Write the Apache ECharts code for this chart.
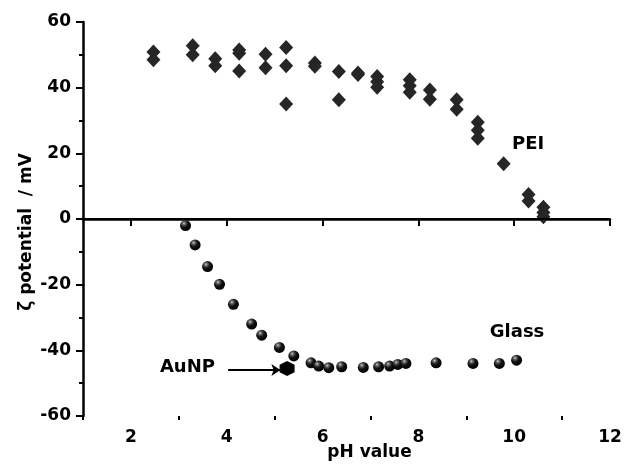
<!DOCTYPE html>
<html>
<head>
<meta charset="utf-8">
<script src="https://cdn.jsdelivr.net/npm/echarts@6/dist/echarts.min.js"></script>
<style>
  html, body { margin: 0; padding: 0; background: #fff; }
  #chart { width: 624px; height: 468px; }
</style>
</head>
<body>
<div id="chart"></div>
<script>
// PEI coated (diamonds)
var peiPH   = [2.47, 2.47, 3.29, 3.29, 3.76, 3.76, 4.26, 4.26, 4.26, 4.81, 4.81, 5.24, 5.24, 5.24,
               5.84, 5.84, 6.34, 6.34, 6.74, 6.74, 7.14, 7.14, 7.14, 7.82, 7.82, 7.82, 8.24, 8.24,
               8.80, 8.80, 9.24, 9.24, 9.24, 9.78, 10.30, 10.30, 10.61, 10.61, 10.61];
var peiZeta = [50.9, 48.5, 52.8, 50.0, 48.8, 46.7, 51.5, 50.5, 45.1, 50.2, 46.1, 52.2, 46.7, 35.0,
               47.5, 46.5, 44.9, 36.3, 44.5, 44.0, 43.4, 41.8, 40.1, 42.4, 40.6, 38.6, 39.3, 36.5,
               36.3, 33.4, 29.5, 27.0, 24.6, 16.8, 7.5, 5.5, 3.6, 2.0, 0.7];

// bare glass (spheres)
var glassPH   = [3.14, 3.34, 3.60, 3.85, 4.14, 4.52, 4.73, 5.10, 5.40, 5.76, 5.92, 6.13, 6.40,
                 6.85, 7.17, 7.40, 7.57, 7.74, 8.37, 9.14, 9.69, 10.05];
var glassZeta = [-2.0, -7.9, -14.5, -19.9, -26.0, -32.0, -35.4, -39.1, -41.7, -43.8, -44.8, -45.3, -45.0,
                 -45.2, -45.0, -44.8, -44.3, -44.0, -43.8, -44.0, -44.0, -43.0];

// gold nanoparticles
var aunpPH   = [5.26];
var aunpZeta = [-45.5];

var xMajorTicks = [2, 4, 6, 8, 10, 12];
var xMinorTicks = [1, 3, 5, 7, 9, 11];

function pairs(xs, ys) {
  var out = [];
  for (var i = 0; i < xs.length; i++) {
    out.push([xs[i], ys[i]]);
  }
  return out;
}

var font = 'DejaVu Sans';

// sphere look
var ball = {
  type: 'radial', x: 0.36, y: 0.3, r: 0.7,
  colorStops: [
    { offset: 0, color: '#d8d8d8' },
    { offset: 0.18, color: '#6a6a6a' },
    { offset: 0.5, color: '#141414' },
    { offset: 1, color: '#000' }
  ]
};

var hexagon = 'path://M0,-1 L0.866,-0.5 L0.866,0.5 L0,1 L-0.866,0.5 L-0.866,-0.5 Z';

var myChart = echarts.init(document.getElementById('chart'));

var option = {
  animation: false,
  backgroundColor: '#fff',
  grid: { left: 83, right: 14, top: 22, bottom: 52, outerBoundsMode: 'none' },
  xAxis: [
    {
      type: 'value', min: 1, max: 12,
      name: 'pH value', nameLocation: 'middle', nameGap: 28, nameMoveOverlap: false,
      nameTextStyle: { fontFamily: font, fontWeight: 'bold', fontSize: 17, color: '#000', padding: [0, 0, 0, 46] },
      axisLine: { show: true, lineStyle: { color: '#000', width: 2.5 } },
      axisTick: { show: true, customValues: xMajorTicks, length: 7, lineStyle: { color: '#000', width: 2 } },
      axisLabel: { customValues: xMajorTicks, margin: 13, fontFamily: font, fontWeight: 'bold', fontSize: 17, color: '#000' },
      splitLine: { show: false }
    },
    {
      type: 'value', min: 1, max: 12, position: 'bottom',
      axisLine: { show: false },
      axisTick: { show: true, customValues: xMinorTicks, length: 4, lineStyle: { color: '#000', width: 2 } },
      axisLabel: { show: false },
      splitLine: { show: false }
    }
  ],
  yAxis: {
    type: 'value', min: -60, max: 60, interval: 20,
    name: 'ζ potential  / mV', nameLocation: 'middle', nameGap: 48, nameMoveOverlap: false,
    nameTextStyle: { fontFamily: font, fontWeight: 'bold', fontSize: 17, color: '#000', padding: [0, 26, 0, 0] },
    axisLine: { show: true, lineStyle: { color: '#000', width: 2.5 } },
    axisTick: { show: true, length: 7, lineStyle: { color: '#000', width: 2 } },
    minorTick: { show: true, splitNumber: 2, length: 4, lineStyle: { color: '#000', width: 2 } },
    axisLabel: { margin: 12, fontFamily: font, fontWeight: 'bold', fontSize: 17, color: '#000' },
    splitLine: { show: false }
  },
  series: [
    {
      name: 'PEI', type: 'scatter',
      symbol: 'diamond', symbolSize: [14, 15],
      itemStyle: { color: '#262626', opacity: 1 },
      data: pairs(peiPH, peiZeta),
      markLine: {
        silent: true, symbol: ['none', 'none'],
        label: { show: false },
        lineStyle: { color: '#000', width: 2, type: 'solid' },
        data: [{ yAxis: 0 }]
      },
      z: 3
    },
    {
      name: 'Glass', type: 'scatter',
      symbol: 'circle', symbolSize: 11,
      itemStyle: { color: ball, opacity: 1 },
      data: pairs(glassPH, glassZeta),
      z: 4
    },
    {
      name: 'AuNP', type: 'scatter',
      symbol: hexagon, symbolSize: 15,
      itemStyle: { color: '#000', opacity: 1 },
      data: pairs(aunpPH, aunpZeta),
      markLine: {
        silent: true, symbol: ['none', 'arrow'], symbolSize: 9,
        label: { show: false },
        lineStyle: { color: '#000', width: 2, type: 'solid' },
        data: [[{ coord: [4.03, -46] }, { coord: [5.12, -46] }]]
      },
      z: 5
    },
    {
      name: 'notes', type: 'scatter', symbolSize: 0, silent: true,
      itemStyle: { color: '#000', opacity: 1 },
      label: {
        show: true, position: 'inside', formatter: '{b}',
        fontFamily: font, fontWeight: 'bold', fontSize: 18, color: '#000',
        textBorderWidth: 0, opacity: 1
      },
      data: [
        { name: 'PEI', value: [10.29, 22.8] },
        { name: 'Glass', value: [10.06, -34.4] },
        { name: 'AuNP', value: [3.18, -45.1] }
      ]
    }
  ]
};

if (option && typeof option === "object") {
  myChart.setOption(option, true);
}
</script>
</body>
</html>
